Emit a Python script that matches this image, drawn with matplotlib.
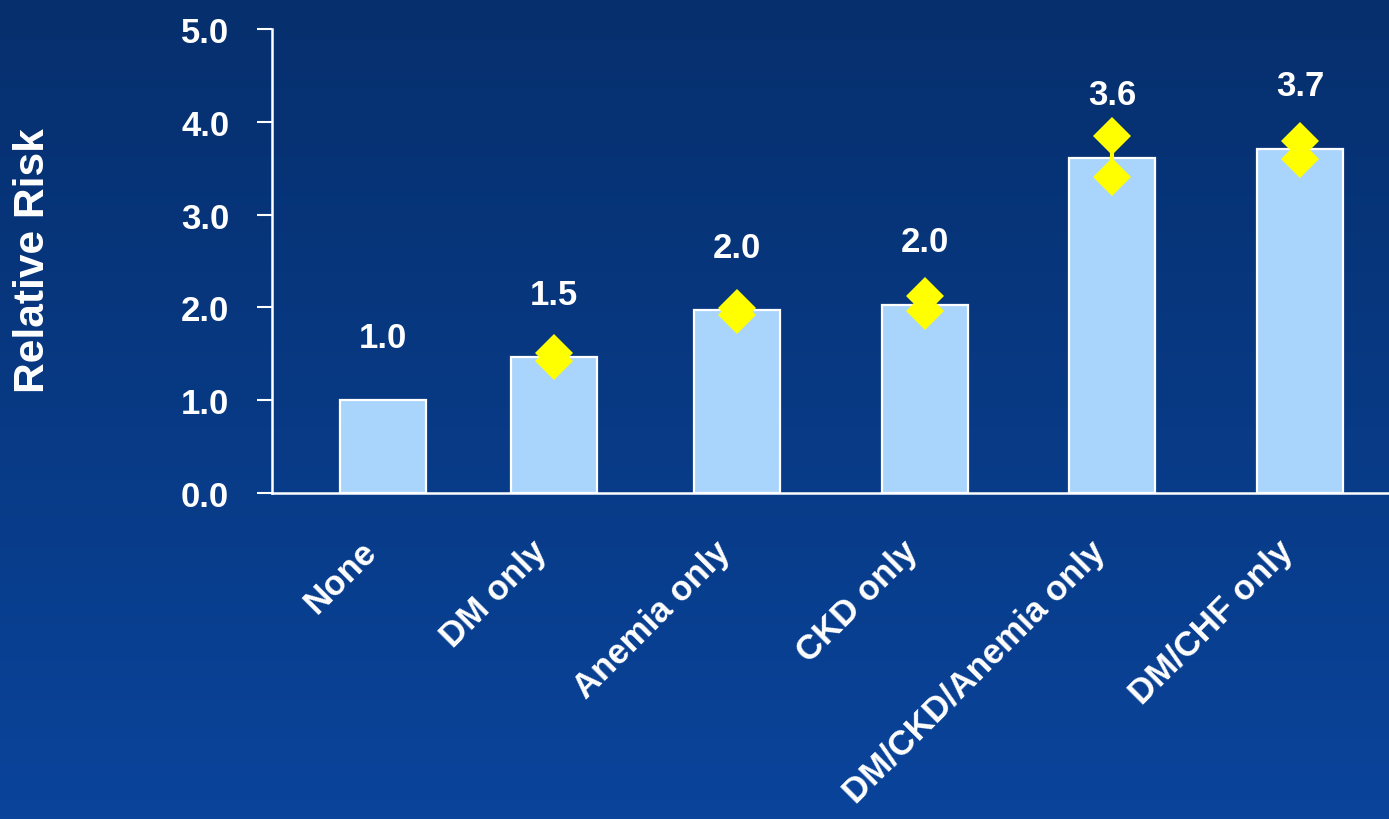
import numpy as np
import matplotlib
matplotlib.use("Agg")
import matplotlib.pyplot as plt
import matplotlib.transforms as mtransforms
from matplotlib.colors import LinearSegmentedColormap

plt.rcParams['font.family'] = ['Liberation Sans', 'DejaVu Sans']
plt.rcParams['font.weight'] = 'bold'

# relative risk by comorbidity group, with confidence bounds
groups = ["None", "DM only", "Anemia only", "CKD only", "DM/CKD/Anemia only", "DM/CHF only"]
risk = [1.0, 1.46, 1.97, 2.03, 3.61, 3.71]
ci_low = [None, 1.42, 1.92, 1.96, 3.41, 3.60]
ci_high = [None, 1.51, 1.99, 2.12, 3.85, 3.79]

xpos = [0, 0.93, 1.93, 2.955, 3.975, 5.0]
white = "white"
yellow = "#ffff00"

fig = plt.figure(figsize=(13.89, 8.20), dpi=100)

# vertical navy gradient behind everything
bg = fig.add_axes([0, 0, 1, 1], zorder=-10)
grad = np.linspace(0, 1, 256).reshape(-1, 1)
cmap = LinearSegmentedColormap.from_list("bg", ["#062f6d", "#0a449b"])
bg.imshow(grad, aspect="auto", cmap=cmap, extent=[0, 1, 1, 0])
bg.set_axis_off()

ax = fig.add_axes([0.196, 0.3976, 0.804, 0.5658])
ax.patch.set_alpha(0)

ax.bar(xpos, risk, width=0.47, color="#a9d4fb", edgecolor=white, linewidth=1.6, zorder=2)

for x, lo, hi in zip(xpos, ci_low, ci_high):
    if lo is None:
        continue
    ax.plot([x, x], [lo, hi], color=yellow, lw=3, zorder=3)
    ax.plot([x, x], [lo, hi], ls="none", marker="D", ms=19, color=yellow,
            markeredgewidth=0, zorder=4)

for x, v in zip(xpos, risk):
    ax.text(x, v + 0.68, f"{v:.1f}", ha="center", va="center", color=white,
            fontsize=25, fontweight="bold")

ax.set_xlim(-0.605, 5.485)
ax.set_ylim(0, 5)
ax.set_yticks([0, 1, 2, 3, 4, 5])
ax.set_yticklabels([f"{t:.1f}" for t in [0, 1, 2, 3, 4, 5]])
ax.set_xticks(xpos)
ax.set_xticklabels(groups, rotation=45, ha="right", va="center", rotation_mode="anchor")

ax.tick_params(axis="y", colors=white, labelsize=25, length=11, width=1.5, pad=20)
ax.tick_params(axis="x", colors=white, labelsize=25, length=0, pad=38)
shift = mtransforms.ScaledTranslation(-12 / 100, 0, fig.dpi_scale_trans)
for lab in ax.get_xticklabels():
    lab.set_fontweight("bold")
    lab.set_transform(lab.get_transform() + shift)
for lab in ax.get_yticklabels():
    lab.set_fontweight("bold")

for side in ["top", "right"]:
    ax.spines[side].set_visible(False)
for side in ["left", "bottom"]:
    ax.spines[side].set_color(white)
    ax.spines[side].set_linewidth(1.8)

fig.text(0.024, 0.682, "Relative Risk", rotation=90, ha="center", va="center",
         color=white, fontsize=30.5, fontweight="bold")

fig.savefig("out.png", dpi=100)
